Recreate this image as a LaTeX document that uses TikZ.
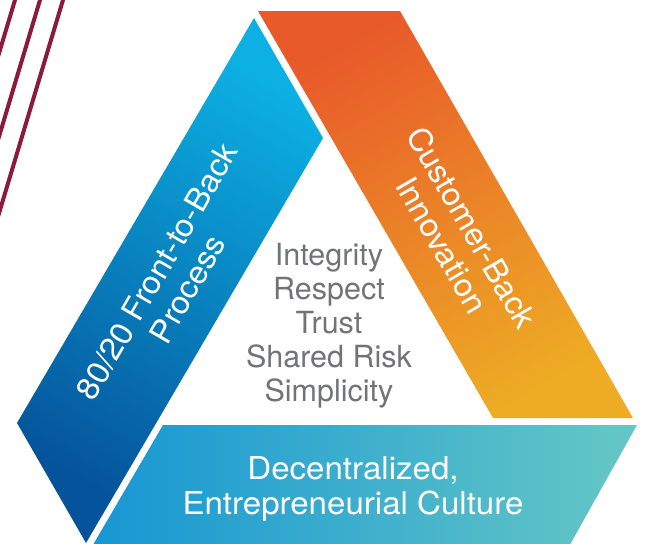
\documentclass[tikz,border=0pt]{standalone}
\usepackage{fontspec}
\setmainfont{TeX Gyre Heros}
\newfontfamily\bandfont[FakeStretch=1.05]{TeX Gyre Heros}

\definecolor{stripecol}{HTML}{8C1A3B}
\definecolor{blueTop}{HTML}{0CB0E3}
\definecolor{blueBot}{HTML}{05539A}
\definecolor{orangeTop}{HTML}{E85A2A}
\definecolor{orangeBot}{HTML}{EDAC24}
\definecolor{cyanLeft}{HTML}{1696D4}
\definecolor{cyanMid}{HTML}{00B8DC}
\definecolor{cyanRight}{HTML}{66C8C5}
\definecolor{valuegrey}{HTML}{727375}

\tikzset{
  stripe/.style={draw=stripecol, line width=4pt},
  bandtext/.style={text=white, align=center, inner sep=0pt,
    font=\bandfont\fontsize{31.5}{35}\selectfont},
  valuetext/.style={text=valuegrey, align=center, inner sep=0pt,
    font=\fontsize{30.5}{34}\selectfont}
}

\begin{document}
\begin{tikzpicture}[x=1pt, y=-1pt]

    \useasboundingbox (0,0) rectangle (646,544);
    \clip (0,0) rectangle (646,544);

    % stripes at the top left
    \foreach \x in {18,43,66}
        \draw[stripe] (\x,-10) -- ++(-75,250);

    % the three bands
    \shade[top color=blueTop, bottom color=blueBot, shading angle=-30]
        (254,18) -- (323,138) -- (86,543) -- (17,423) -- cycle;
    \shade[top color=orangeTop, bottom color=orangeBot, shading angle=30]
        (258,11) -- (400,11) -- (633,418) -- (493,418) -- cycle;
    \shade[left color=cyanLeft, middle color=cyanMid, right color=cyanRight]
        (163,425) -- (637,425) -- (567,550) -- (90,550) -- cycle;

    \node[bandtext, rotate=60] (process) at (172,280) {80/20 Front-to-Back\\Process};
    \node[bandtext, rotate=-60] (innovation) at (457,236) {Customer-Back\\Innovation};
    \node[bandtext] (culture) at (353,489) {Decentralized,\\Entrepreneurial Culture};

    \node[valuetext] (values) at (329,326) {Integrity\\Respect\\Trust\\Shared Risk\\Simplicity};
\end{tikzpicture}
\end{document}
